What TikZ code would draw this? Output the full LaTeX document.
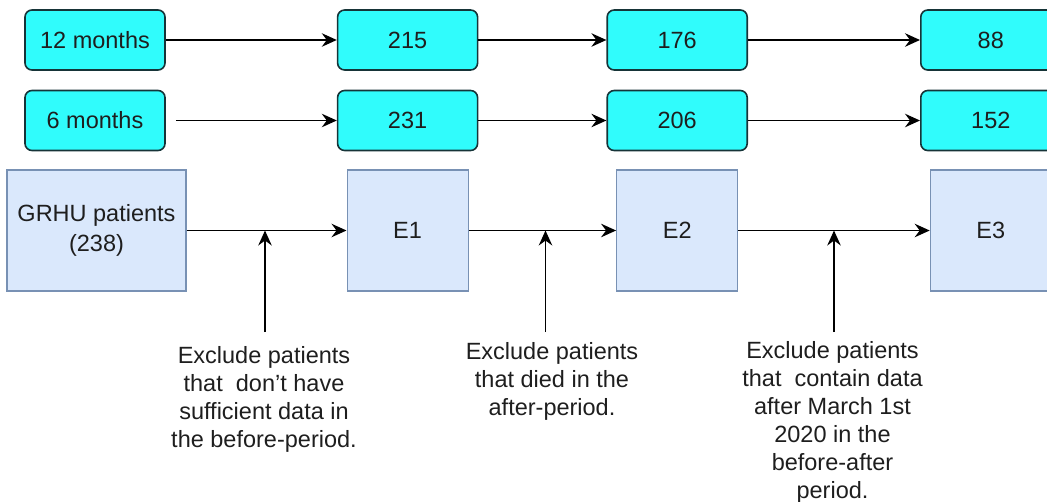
\documentclass[tikz,border=0pt]{standalone}
\usepackage{fontspec}
\setmainfont{Liberation Sans}
\usepackage{tikz}
\usetikzlibrary{positioning}
\usetikzlibrary{arrows.meta}
\definecolor{boxcyan}{RGB}{48,252,252}
\definecolor{cyanedge}{RGB}{22,52,56}
\definecolor{paleblue}{RGB}{218,232,252}
\definecolor{paleedge}{RGB}{120,145,180}
\definecolor{inkgray}{RGB}{30,30,30}

\begin{document}
\begin{tikzpicture}[x=1pt, y=-1pt,
    font=\fontsize{23.5}{28}\selectfont, text=inkgray,
    count/.style={rectangle, rounded corners=7pt, fill=boxcyan, draw=cyanedge, line width=1.6pt, minimum width=140pt, minimum height=60pt, inner sep=0pt},
    stage/.style={rectangle, fill=paleblue, draw=paleedge, line width=1.2pt, minimum width=121pt, minimum height=121pt, inner sep=0pt, align=center},
    note/.style={anchor=north, align=center, inner sep=0pt, outer ysep=10pt},
    flow/.style={-{Stealth[length=15pt, width=13.5pt, inset=5pt]}, line width=1.6pt}]
    \useasboundingbox (0,0) rectangle (1047,501);

    % follow-up counts
    \node[count] (m12) at (95,40) {12 months};
    \node[count, right=171pt of m12] (n215) {215};
    \node[count, right=128pt of n215] (n176) {176};
    \node[count, right=172pt of n176] (n88) {88};

    \node[count] (m6) at (95,120.5) {6 months};
    \node[count, right=171pt of m6] (n231) {231};
    \node[count, right=128pt of n231] (n206) {206};
    \node[count, right=172pt of n206] (n152) {152};

    % exclusion stages
    \node[stage, minimum width=179pt, font=\fontsize{23.5}{30}\selectfont] (grhu) at (96.5,230.5) {GRHU patients\\(238)};
    \node[stage] (e1) at (n215 |- grhu) {E1};
    \node[stage] (e2) at (n176 |- grhu) {E2};
    \node[stage] (e3) at (n88 |- grhu) {E3};

    \coordinate (c1) at (265,230.5);
    \coordinate (c2) at (545.5,230.5);
    \coordinate (c3) at (834,230.5);

    \node[note, outer ysep=14pt] (t1) at (264,332) {Exclude patients\\that~ don't have\\sufficient data in\\the before-period.};
    \node[note] (t2) at (552,332) {Exclude patients\\that died in the\\after-period.};
    \node[note, outer ysep=9pt] (t3) at (832.5,332) {Exclude patients\\that~ contain data\\after March 1st\\2020 in the\\before-after\\period.};

    \draw[flow] (m12) -- (n215);
    \draw[flow] (n215) -- (n176);
    \draw[flow] (n176) -- (n88);
    \draw[flow, shorten <=10pt] (m6) -- (n231);
    \draw[flow] (n231) -- (n206);
    \draw[flow] (n206) -- (n152);

    \draw[flow] (grhu) -- (e1);
    \draw[flow] (e1) -- (e2);
    \draw[flow] (e2) -- (e3);

    \draw[flow] (c1 |- t1.north) -- (c1);
    \draw[flow] (c2 |- t2.north) -- (c2);
    \draw[flow] (c3 |- t3.north) -- (c3);
\end{tikzpicture}
\end{document}
